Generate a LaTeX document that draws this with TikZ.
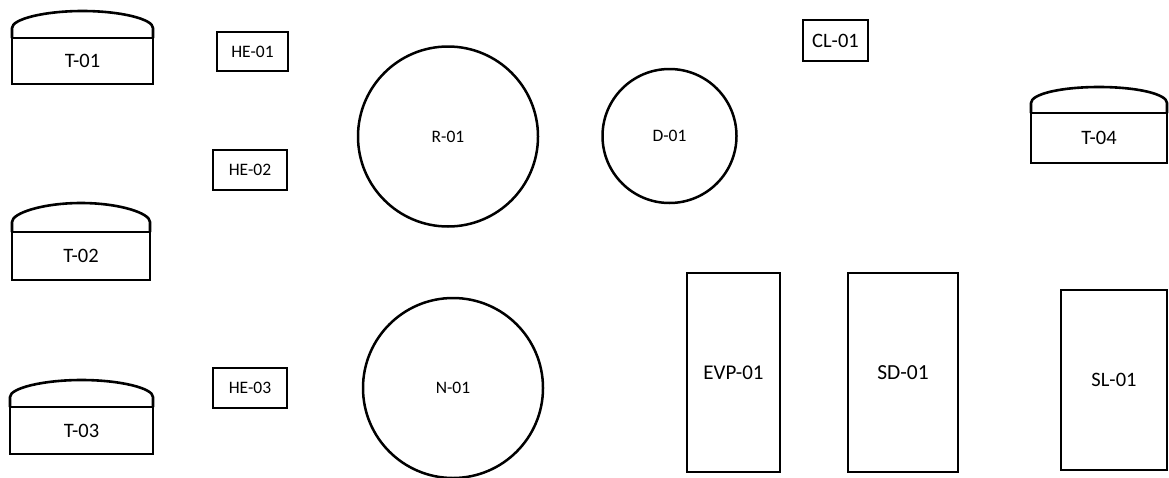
\documentclass[tikz,border=0pt]{standalone}
\usepackage{fontspec}
\setmainfont{Carlito}
\usetikzlibrary{calc}
\tikzset{
  x=1pt, y=-1pt,
  eq/.style={draw=black, line width=2.6pt, inner sep=0pt, outer sep=0pt, rectangle, align=center},
  vessel/.style={draw=black, line width=2.5pt, inner sep=0pt, outer sep=0pt, circle, font=\fontsize{17.5}{17.5}\selectfont},
  small/.style={font=\fontsize{17.5}{17.5}\selectfont},
  big/.style={font=\fontsize{20.5}{20.5}\selectfont},
  domeline/.style={draw=black, line width=2.6pt, line join=round},
}
\newcommand\tankdome[3]{% node, side rise, peak rise
  \draw[domeline] (#1.north west) -- ++(0,-#2)
    .. controls +(0,-9) and +(-38,0) .. ($(#1.north)+(0,-#3)$)
    .. controls +(38,0) and +(0,-9) .. ($(#1.north east)+(0,-#2)$) -- (#1.north east);}
\begin{document}
\begin{tikzpicture}
\useasboundingbox (0,0) rectangle (1169,477);
% tanks
\node[eq,big,minimum width=141pt,minimum height=46pt] (T01) at (82.5,61) {T-01};
\tankdome{T01}{10}{27}
\node[eq,big,minimum width=138pt,minimum height=48pt] (T02) at (81,256) {T-02};
\tankdome{T02}{10}{29}
\node[eq,big,minimum width=143pt,minimum height=47pt] (T03) at (81.5,430.5) {T-03};
\tankdome{T03}{10}{27}
\node[eq,big,minimum width=136pt,minimum height=50pt] (T04) at (1099,138) {T-04};
\tankdome{T04}{10}{26}
% heat exchangers
\node[eq,small,minimum width=71pt,minimum height=39pt] (HE01) at (252.5,51.5) {HE-01};
\node[eq,small,minimum width=74pt,minimum height=40pt] (HE02) at (250,170) {HE-02};
\node[eq,small,minimum width=74pt,minimum height=40pt] (HE03) at (250,388) {HE-03};
% vessels
\node[vessel,minimum size=180pt] (R01) at (448,136.5) {R-01};
\node[vessel,minimum size=134pt] (D01) at (669.5,136) {D-01};
\node[vessel,minimum size=180pt] (N01) at (453,388) {N-01};
% others
\node[eq,big,minimum width=65pt,minimum height=41pt] (CL01) at (835.5,40.5) {CL-01};
\node[eq,font=\fontsize{21}{21}\selectfont,minimum width=93pt,minimum height=199pt] (EVP01) at (733.5,372.5) {EVP-01};
\node[eq,font=\fontsize{21.5}{21.5}\selectfont,minimum width=110pt,minimum height=199pt] (SD01) at (903,372.5) {SD-01};
\node[eq,big,minimum width=106pt,minimum height=180pt] (SL01) at (1114,380) {SL-01};
\end{tikzpicture}
\end{document}
